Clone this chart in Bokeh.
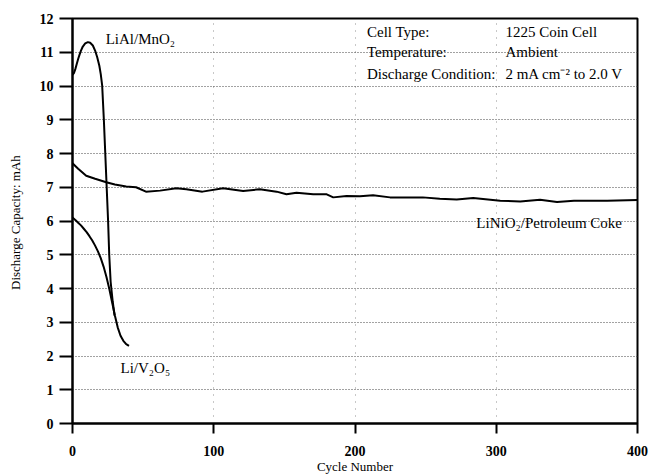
from bokeh.plotting import figure
from bokeh.models import Range1d, FixedTicker
from bokeh.core.properties import value
from bokeh.embed import file_html
from bokeh.resources import INLINE

# ---- data ----
mno2_cycles = [0, 1, 2, 3, 4, 5, 6, 7.3, 9, 10.9, 12.5, 14.4, 16, 17.5, 19, 20, 21, 22.2, 23.1,
               24.2, 25.2, 26, 27, 28.5, 29.8]
mno2_cap = [10.33, 10.38, 10.5, 10.65, 10.8, 10.93, 11.05, 11.17, 11.26, 11.3, 11.28, 11.2, 11.05,
            10.85, 10.6, 10.35, 10.02, 9.0, 8.1, 7.0, 6.0, 5.0, 4.2, 3.6, 3.2]

v2o5_cycles = [0, 2, 4, 6, 8, 10, 12, 14, 16, 18, 20, 22, 24, 26, 28, 30, 32, 34, 36, 38, 40]
v2o5_cap = [6.1, 6.03, 5.95, 5.87, 5.77, 5.67, 5.55, 5.42, 5.27, 5.1, 4.9, 4.65, 4.35, 4.0, 3.6,
            3.2, 2.85, 2.6, 2.45, 2.35, 2.3]

linio2_cycles = [0, 4, 9.7, 16, 23.9, 30, 38, 45, 52, 62, 73.5, 80.6, 92, 106.6, 120.8, 132.6, 144.5,
                 151.5, 158.6, 170.4, 180, 184.6, 194, 203.5, 212.8, 224.8, 248, 260, 272, 283.7,
                 302.8, 317, 331, 343, 355, 378.5, 400]
linio2_cap = [7.71, 7.55, 7.34, 7.25, 7.15, 7.08, 7.02, 7.0, 6.87, 6.9, 6.97, 6.94, 6.87, 6.97, 6.89, 6.94, 6.87,
              6.79, 6.84, 6.79, 6.79, 6.70, 6.74, 6.73, 6.76, 6.70, 6.70, 6.66, 6.64, 6.68,
              6.60, 6.58, 6.63, 6.56, 6.60, 6.60, 6.62]

series_names = ["LiAl/MnO\u2082", "Li/V\u2082O\u2085", "LiNiO\u2082/Petroleum Coke"]
info_keys = ["Cell Type:", "Temperature:", "Discharge Condition:"]
info_vals = ["1225 Coin Cell", "Ambient", "2 mA cm\u207b\u00b2 to 2.0 V"]

x_ticks = [0, 100, 200, 300, 400]
y_ticks = list(range(0, 13))

FONT = "Liberation Serif"

p = figure(width=649, height=476, x_range=Range1d(0, 400), y_range=Range1d(0, 12),
           output_backend="svg", toolbar_location=None,
           min_border_left=72, min_border_right=12, min_border_top=18, min_border_bottom=53,
           background_fill_color="white", border_fill_color="white")

p.outline_line_color = "black"
p.outline_line_width = 2
p.outline_line_alpha = 1

# grids
p.ygrid.ticker = FixedTicker(ticks=y_ticks[1:-1])
p.ygrid.grid_line_color = "#444444"
p.ygrid.grid_line_dash = "1 2"
p.ygrid.grid_line_width = 1
p.ygrid.grid_line_alpha = 1
p.xgrid.ticker = FixedTicker(ticks=x_ticks[1:-1])
p.xgrid.grid_line_color = "#777777"
p.xgrid.grid_line_dash = "1 6"
p.xgrid.grid_line_width = 1
p.xgrid.grid_line_alpha = 0.8

# axes
for ax in (p.xaxis[0], p.yaxis[0]):
    ax.axis_line_color = "black"
    ax.axis_line_width = 2
    ax.major_tick_line_color = "black"
    ax.major_tick_line_width = 2
    ax.major_tick_in = 0
    ax.minor_tick_line_color = None
    ax.major_label_text_font = FONT
    ax.major_label_text_font_size = "14px"
    ax.major_label_text_font_style = "bold"
    ax.major_label_text_color = "black"
    ax.axis_label_text_font = FONT
    ax.axis_label_text_font_size = "13px"
    ax.axis_label_text_font_style = "normal"
    ax.axis_label_text_color = "black"

p.xaxis.ticker = FixedTicker(ticks=x_ticks)
p.yaxis.ticker = FixedTicker(ticks=y_ticks)
p.xaxis.major_tick_out = 10
p.yaxis.major_tick_out = 13
p.xaxis.major_label_standoff = 12
p.yaxis.major_label_standoff = 6
p.xaxis.axis_label = "Cycle Number"
p.yaxis.axis_label = "Discharge Capacity:  mAh"
p.xaxis.axis_label_standoff = 0
p.yaxis.axis_label_standoff = 14

# curves
p.line(mno2_cycles, mno2_cap, line_color="black", line_width=2)
p.line(v2o5_cycles, v2o5_cap, line_color="black", line_width=2)
p.line(linio2_cycles, linio2_cap, line_color="black", line_width=2)

# series labels
FS = "15px"
p.text(x=[23.5], y=[11.4], text=[series_names[0]], text_font=value(FONT), text_font_size=FS,
       text_baseline="middle", text_align="left", text_color="black")
p.text(x=[34], y=[1.65], text=[series_names[1]], text_font=value(FONT), text_font_size=FS,
       text_baseline="middle", text_align="left", text_color="black")
p.text(x=[389], y=[5.93], text=[series_names[2]], text_font=value(FONT), text_font_size=FS,
       text_baseline="middle", text_align="right", text_color="black")

# info block
info_y = [11.6, 11.0, 10.37]
p.text(x=[208.5] * 3, y=info_y, text=info_keys, text_font=value(FONT), text_font_size=FS,
       text_baseline="middle", text_align="left", text_color="black")
p.text(x=[306.5] * 3, y=info_y, text=info_vals, text_font=value(FONT), text_font_size=FS,
       text_baseline="middle", text_align="left", text_color="black")

open("out.html", "w").write(file_html(p, INLINE))
